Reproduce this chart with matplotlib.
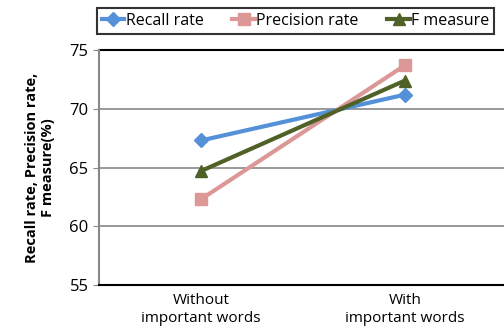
import matplotlib
matplotlib.use("Agg")
import matplotlib.pyplot as plt

plt.rcParams['font.family'] = ['Open Sans', 'DejaVu Sans']

categories = ["Without\nimportant words", "With\nimportant words"]
recall = [67.3, 71.2]
precision = [62.3, 73.7]
f_measure = [64.7, 72.4]

fig = plt.figure(figsize=(5.04, 3.35), dpi=100)
ax = fig.add_axes([99 / 504, 1 - 285 / 335, 408 / 504, 235 / 335])

x = [0.5, 1.5]
ax.plot(x, recall, color="#5591d8", marker="D", markersize=7, linewidth=3, label="Recall rate")
ax.plot(x, precision, color="#dc9896", marker="s", markersize=8, linewidth=3, label="Precision rate")
ax.plot(x, f_measure, color="#506128", marker="^", markersize=8, linewidth=3, label="F measure")

ax.set_xlim(0, 2)
ax.set_ylim(55, 75)
ax.set_yticks([55, 60, 65, 70, 75])
ax.set_xticks(x)
ax.set_xticklabels(categories, fontsize=11)
ax.tick_params(axis="y", labelsize=12, length=4, color="#888888")
ax.tick_params(axis="x", length=0, pad=6)
ax.yaxis.grid(True, color="#888888", linewidth=1.2)
ax.set_axisbelow(True)

for s in ["top", "right"]:
    ax.spines[s].set_visible(False)
ax.spines["left"].set_color("#888888")
ax.spines["left"].set_linewidth(1.5)
ax.spines["bottom"].set_color("black")
ax.spines["bottom"].set_linewidth(1.5)
ax.axhline(75, color="black", linewidth=1.5, clip_on=False)

ax.set_ylabel("Recall rate, Precision rate,\nF measure(%)", fontsize=10.5, fontweight="bold", labelpad=10)

leg = fig.legend(loc="upper left", bbox_to_anchor=(97 / 504, 1 - 8 / 335), borderaxespad=0,
                 ncol=3, frameon=True, fancybox=False, edgecolor="black", fontsize=11.5,
                 handlelength=1.4, handletextpad=0.1, columnspacing=1.8, borderpad=0.3)
leg.get_frame().set_linewidth(1.5)

plt.savefig("out.png", dpi=100)
